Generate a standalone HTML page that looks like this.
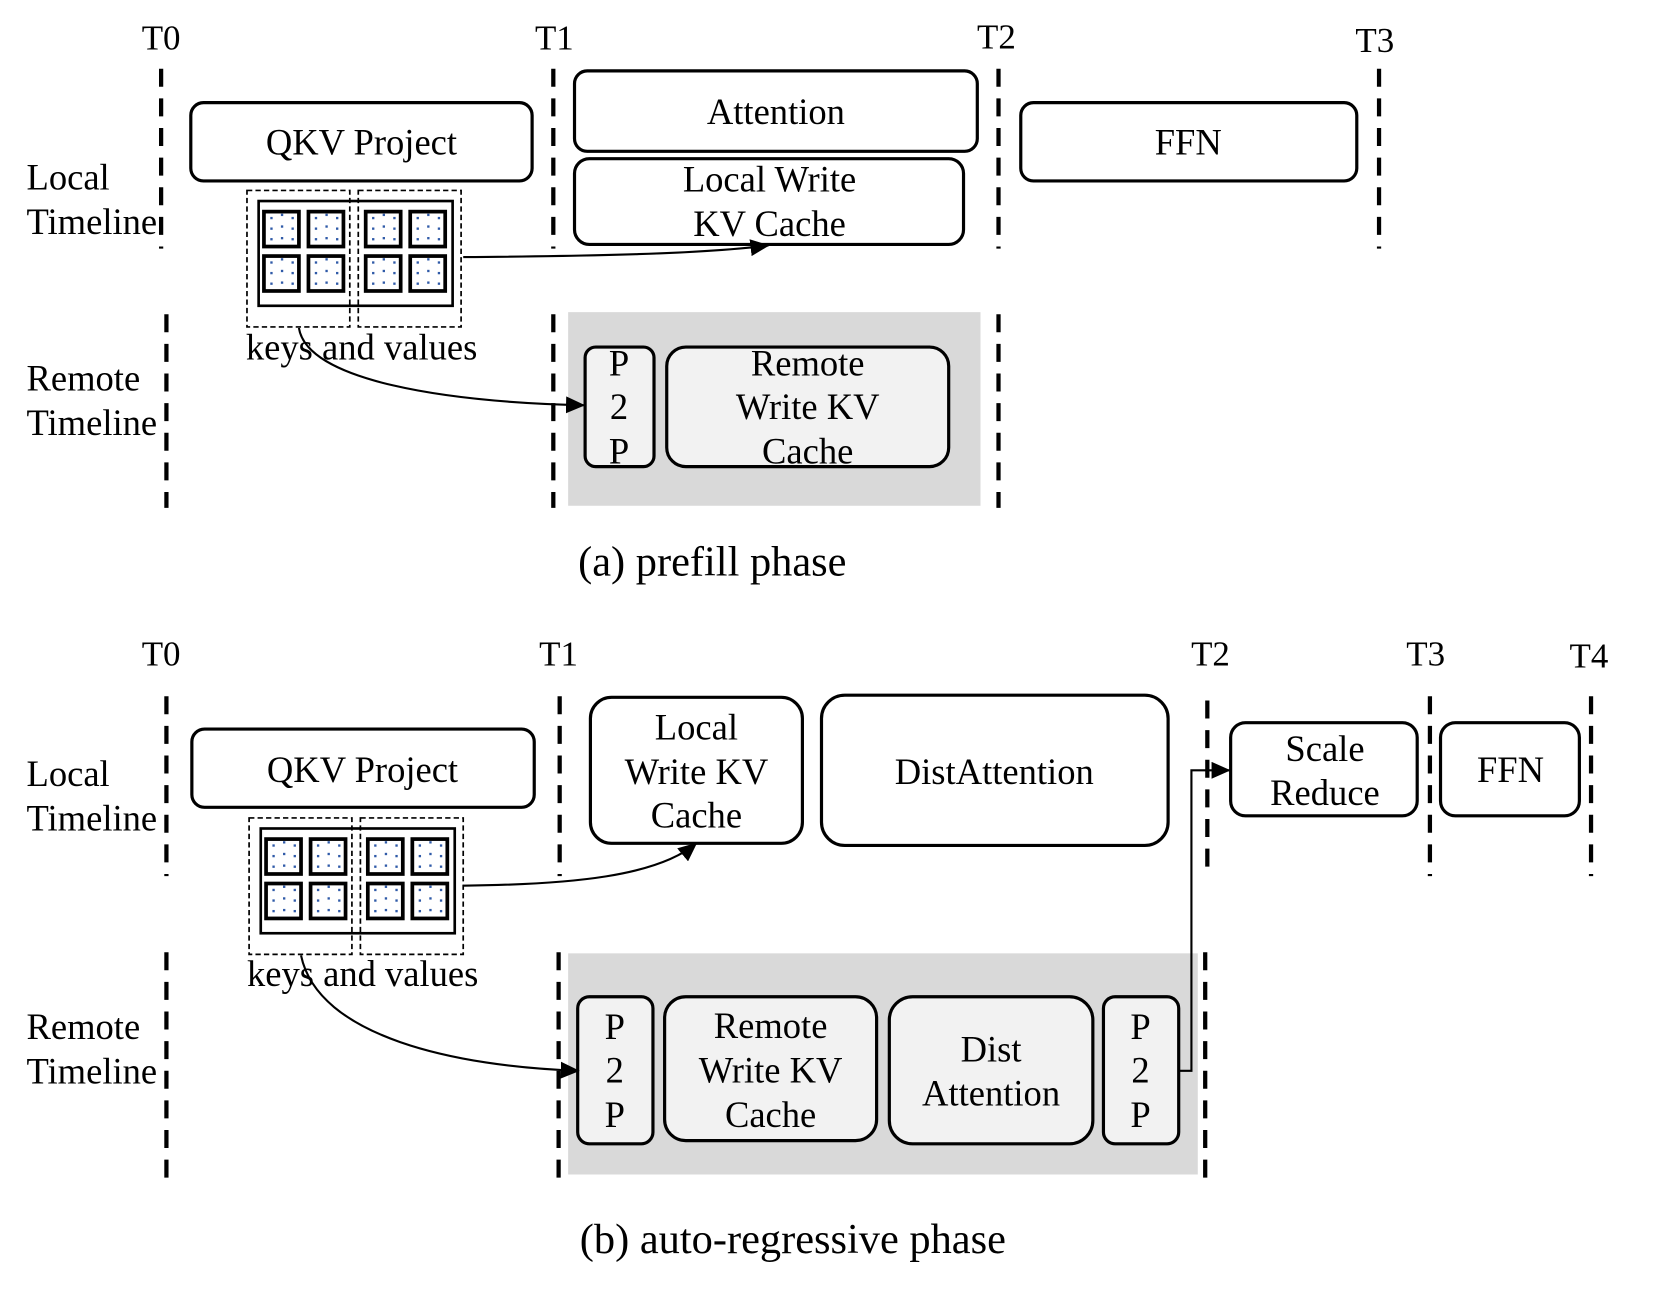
<!DOCTYPE html>
<html><head><meta charset="utf-8"><style>
html,body{margin:0;padding:0;background:#fff;}
svg{display:block;}
text{font-family:"Liberation Serif",serif;fill:#000;}
</style></head><body>
<svg width="1661" height="1293" viewBox="0 0 1567 1222" preserveAspectRatio="none" xmlns="http://www.w3.org/2000/svg">
<defs>
<marker id="ah2" markerWidth="18" markerHeight="16" refX="17" refY="8" orient="auto" markerUnits="userSpaceOnUse">
<path d="M0,0 L18,8 L0,16 z" fill="#000"/>
</marker>
<g id="sq">
<rect x="0" y="0" width="33" height="33" fill="#fff" stroke="#000" stroke-width="3.5"/>
<g fill="#2f5aa8">
<rect x="6" y="5" width="2.2" height="2.2"/><rect x="16" y="2" width="2.2" height="2.2"/><rect x="26" y="5" width="2.2" height="2.2"/>
<rect x="6" y="15" width="2.2" height="2.2"/><rect x="16" y="13" width="2.2" height="2.2"/><rect x="26" y="15" width="2.2" height="2.2"/>
<rect x="16" y="24" width="2.2" height="2.2"/><rect x="6" y="25" width="2.2" height="2.2"/><rect x="26" y="25" width="2.2" height="2.2"/>
</g>
</g>
<g id="kv">
<rect x="0" y="0" width="97" height="129" fill="none" stroke="#000" stroke-width="1.6" stroke-dasharray="5,3"/>
<rect x="105" y="0" width="97" height="129" fill="none" stroke="#000" stroke-width="1.6" stroke-dasharray="5,3"/>
<rect x="11" y="10" width="183" height="99" fill="none" stroke="#000" stroke-width="2.5"/>
<use href="#sq" x="16" y="20"/><use href="#sq" x="58" y="20"/><use href="#sq" x="112" y="20"/><use href="#sq" x="154" y="20"/>
<use href="#sq" x="16" y="62"/><use href="#sq" x="58" y="62"/><use href="#sq" x="112" y="62"/><use href="#sq" x="154" y="62"/>
</g>
</defs>

<g stroke="#000" stroke-width="4" stroke-dasharray="17,11" fill="none">
<line x1="152" y1="65" x2="152" y2="235"/><line x1="522" y1="65" x2="522" y2="235"/>
<line x1="942" y1="65" x2="942" y2="235"/><line x1="1301" y1="65" x2="1301" y2="235"/>
<line x1="157" y1="297" x2="157" y2="480"/><line x1="522" y1="297" x2="522" y2="480"/><line x1="942" y1="297" x2="942" y2="480"/>
<line x1="157" y1="658" x2="157" y2="828"/><line x1="528" y1="658" x2="528" y2="828"/>
<line x1="1139" y1="662" x2="1139" y2="830"/><line x1="1349" y1="658" x2="1349" y2="828"/><line x1="1501" y1="658" x2="1501" y2="828"/>
<line x1="157" y1="900" x2="157" y2="1115"/><line x1="527" y1="900" x2="527" y2="1115"/><line x1="1137" y1="900" x2="1137" y2="1115"/>
</g>

<g font-size="33" text-anchor="middle">
<text x="152" y="47">T0</text><text x="523" y="47">T1</text><text x="940" y="46">T2</text><text x="1297" y="49">T3</text>
<text x="152" y="629">T0</text><text x="527" y="629">T1</text><text x="1142" y="629">T2</text><text x="1345" y="629">T3</text><text x="1499" y="631">T4</text>
</g>
<g font-size="34.5">
<text x="25" y="179">Local</text><text x="25" y="221">Timeline</text>
<text x="25" y="369">Remote</text><text x="25" y="411">Timeline</text>
<text x="25" y="743">Local</text><text x="25" y="785">Timeline</text>
<text x="25" y="982">Remote</text><text x="25" y="1024">Timeline</text>
</g>

<!-- (a) -->
<rect x="536" y="295" width="389" height="183" fill="#d9d9d9"/>
<g stroke="#000" stroke-width="3" fill="#fff">
<rect x="180" y="97" width="322" height="74" rx="12"/>
<rect x="542" y="67" width="380" height="76" rx="12"/>
<rect x="542" y="150" width="367" height="81" rx="14"/>
<rect x="963" y="97" width="317" height="74" rx="12"/>
<rect x="552" y="328" width="65" height="113" rx="10" fill="#f2f2f2"/>
<rect x="629" y="328" width="266" height="113" rx="18" fill="#f2f2f2"/>
</g>
<g font-size="34.5" text-anchor="middle">
<text x="341" y="146">QKV Project</text>
<text x="732" y="117">Attention</text>
<text x="726" y="181">Local Write</text><text x="726" y="223">KV Cache</text>
<text x="1121" y="146">FFN</text>
<text x="584" y="355">P</text><text x="584" y="396">2</text><text x="584" y="438">P</text>
<text x="762" y="355">Remote</text><text x="762" y="396">Write KV</text><text x="762" y="438">Cache</text>
</g>
<use href="#kv" x="233" y="180"/>
<text x="232" y="340" font-size="34.5">keys and values</text>
<path d="M437,243 C560,242 660,240 725,232" fill="none" stroke="#000" stroke-width="2" marker-end="url(#ah2)"/>
<path d="M282,310 C290,360 420,380 551,383" fill="none" stroke="#000" stroke-width="2" marker-end="url(#ah2)"/>
<text x="672" y="544" font-size="40" text-anchor="middle">(a) prefill phase</text>

<!-- (b) -->
<rect x="536" y="901" width="594" height="209" fill="#d9d9d9"/>
<g stroke="#000" stroke-width="3" fill="#fff">
<rect x="181" y="689" width="323" height="74" rx="12"/>
<rect x="557" y="659" width="200" height="138" rx="20"/>
<rect x="775" y="657" width="327" height="142" rx="22"/>
<rect x="1161" y="683" width="176" height="88" rx="14"/>
<rect x="1359" y="683" width="131" height="88" rx="14"/>
<rect x="545" y="942" width="71" height="139" rx="11" fill="#f2f2f2"/>
<rect x="627" y="942" width="200" height="136" rx="20" fill="#f2f2f2"/>
<rect x="839" y="942" width="192" height="139" rx="22" fill="#f2f2f2"/>
<rect x="1041" y="942" width="71" height="139" rx="11" fill="#f2f2f2"/>
</g>
<g font-size="34.5" text-anchor="middle">
<text x="342" y="739">QKV Project</text>
<text x="657" y="699">Local</text><text x="657" y="741">Write KV</text><text x="657" y="782">Cache</text>
<text x="938" y="741">DistAttention</text>
<text x="1250" y="719">Scale</text><text x="1250" y="761">Reduce</text>
<text x="1425" y="739">FFN</text>
<text x="580" y="982">P</text><text x="580" y="1023">2</text><text x="580" y="1065">P</text>
<text x="727" y="981">Remote</text><text x="727" y="1023">Write KV</text><text x="727" y="1065">Cache</text>
<text x="935" y="1003">Dist</text><text x="935" y="1045">Attention</text>
<text x="1076" y="982">P</text><text x="1076" y="1023">2</text><text x="1076" y="1065">P</text>
</g>
<use href="#kv" x="235" y="773"/>
<text x="233" y="932" font-size="34.5">keys and values</text>
<path d="M437,837 C540,836 620,828 657,797" fill="none" stroke="#000" stroke-width="2" marker-end="url(#ah2)"/>
<path d="M284,903 C300,980 430,1008 546,1012" fill="none" stroke="#000" stroke-width="2" marker-end="url(#ah2)"/>
<path d="M1112,1012 L1124,1012 L1124,728 L1160,728" fill="none" stroke="#000" stroke-width="2" marker-end="url(#ah2)"/>
<text x="748" y="1184" font-size="40" text-anchor="middle">(b) auto-regressive phase</text>
</svg>
</body></html>
